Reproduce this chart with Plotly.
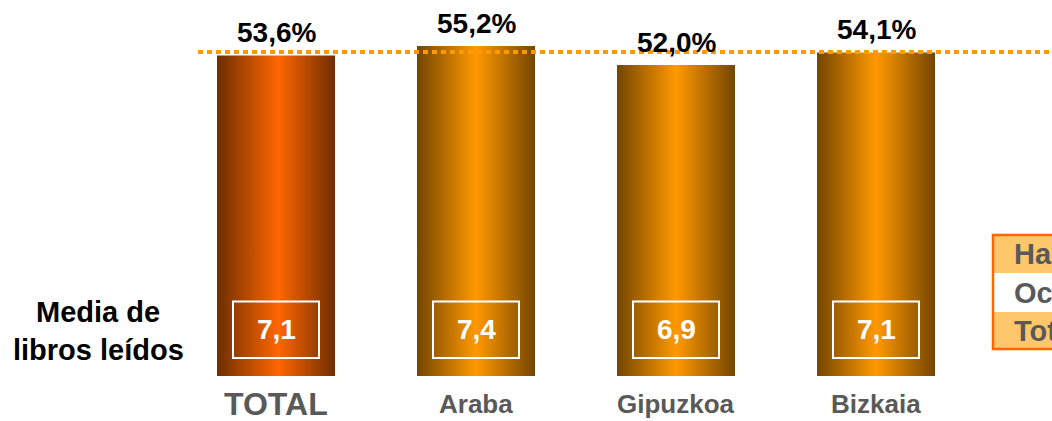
import plotly.graph_objects as go

# ---- data ----
categories = ["TOTAL", "Araba", "Gipuzkoa", "Bizkaia"]
pct_readers = [53.6, 55.2, 52.0, 54.1]
pct_labels = ["53,6%", "55,2%", "52,0%", "54,1%"]
mean_books = ["7,1", "7,4", "6,9", "7,1"]
ref_line_value = 54.2
side_title = ["Media de", "libros leídos"]
legend_rows = ["Habituales", "Ocasionales", "Total"]

# ---- style ----
W, H = 1052, 421
PLOT_B = 45
FONT = "Liberation Sans, Arial, sans-serif"
BAR_HALF = 0.295
colorscales = [
    [[0, "#6e2e00"], [0.52, "#ff6600"], [1, "#6e2e00"]],
    [[0, "#744600"], [0.5, "#ff9900"], [1, "#744600"]],
    [[0, "#744600"], [0.5, "#ff9900"], [1, "#744600"]],
    [[0, "#744600"], [0.5, "#ff9900"], [1, "#744600"]],
]
cat_sizes = [32, 26, 26, 26]

fig = go.Figure()

for i, (cat, v) in enumerate(zip(categories, pct_readers)):
    xs = [i - BAR_HALF, i + BAR_HALF, i + BAR_HALF, i - BAR_HALF, i - BAR_HALF]
    ys = [0, 0, v, v, 0]
    fig.add_trace(go.Scatter(
        x=xs, y=ys, fill="toself", mode="lines",
        line=dict(width=0, color="rgba(0,0,0,0)"),
        fillgradient=dict(type="horizontal", colorscale=colorscales[i]),
        hoverinfo="skip", showlegend=False, name=cat,
    ))

# dotted reference line
fig.add_trace(go.Scatter(
    x=[-0.39, 3.9], y=[ref_line_value, ref_line_value], mode="lines",
    line=dict(color="#ff9900", width=4, dash="5px,4px"),
    hoverinfo="skip", showlegend=False,
))

annotations = []
shapes = []
for i, (v, lab, mb, cat) in enumerate(zip(pct_readers, pct_labels, mean_books, categories)):
    annotations.append(dict(
        x=i, y=v, xref="x", yref="y", text=f"<b>{lab}</b>", showarrow=False,
        yanchor="bottom", yshift=5, font=dict(family=FONT, size=28, color="#000000"),
    ))
    shapes.append(dict(
        type="rect", xref="x", yref="y", x0=i - 0.215, x1=i + 0.215, y0=3.0, y1=12.45,
        line=dict(color="white", width=2), fillcolor="rgba(0,0,0,0)",
    ))
    annotations.append(dict(
        x=i, y=7.7, xref="x", yref="y", text=f"<b>{mb}</b>", showarrow=False,
        font=dict(family=FONT, size=28, color="white"),
    ))
    annotations.append(dict(
        x=i, y=-(404 - 376) / 376, xref="x", yref="paper", text=f"<b>{cat}</b>",
        showarrow=False, yanchor="middle",
        font=dict(family=FONT, size=cat_sizes[i], color="#595959"),
    ))

# side title
for k, (line, py) in enumerate(zip(side_title, [312, 350])):
    annotations.append(dict(
        x=98 / W, y=1 - py / 376, xref="paper", yref="paper", text=f"<b>{line}</b>",
        showarrow=False, yanchor="middle", xanchor="center",
        font=dict(family=FONT, size=29, color="#000000"),
    ))

# cut-off legend box at right
row_edges = [235, 273, 312, 349]
row_fill = ["#ffc76b", "#ffffff", "#ffc76b"]
for r in range(3):
    shapes.append(dict(
        type="rect", xref="paper", yref="paper",
        x0=993 / W, x1=1.2, y0=1 - row_edges[r + 1] / 376, y1=1 - row_edges[r] / 376,
        line=dict(width=0), fillcolor=row_fill[r], layer="above",
    ))
    annotations.append(dict(
        x=1012 / W, y=1 - (row_edges[r] + row_edges[r + 1]) / 2 / 376,
        xref="paper", yref="paper", text=f"<b>{legend_rows[r]}</b>", showarrow=False,
        xanchor="left", yanchor="middle", font=dict(family=FONT, size=29, color="#595959"),
    ))
shapes.append(dict(
    type="rect", xref="paper", yref="paper",
    x0=993 / W, x1=1.2, y0=1 - row_edges[3] / 376, y1=1 - row_edges[0] / 376,
    line=dict(color="#ff6600", width=2.5), fillcolor="rgba(0,0,0,0)", layer="above",
))

fig.update_layout(
    width=W, height=H,
    margin=dict(l=0, r=0, t=0, b=PLOT_B, pad=0),
    paper_bgcolor="white", plot_bgcolor="white",
    xaxis=dict(range=[-276 / 200, (W - 276) / 200], visible=False, fixedrange=True),
    yaxis=dict(range=[0, 376 / 5.98], visible=False, fixedrange=True),
    annotations=annotations, shapes=shapes, showlegend=False,
)

fig.write_html(
    "out.html",
    config={"displayModeBar": False},
    post_script="document.body.style.margin='0px';document.body.style.overflow='hidden';",
)
